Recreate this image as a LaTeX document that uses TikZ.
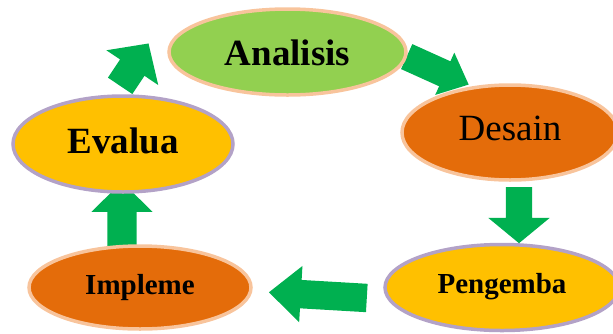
\documentclass[tikz,border=0pt]{standalone}
\usepackage{fontspec}
\setmainfont{Liberation Serif}
\usetikzlibrary{shapes.geometric,shapes.arrows}
\definecolor{lgreen}{HTML}{92D050}
\definecolor{peach}{HTML}{F8C49C}
\definecolor{orng}{HTML}{E46C0A}
\definecolor{yel}{HTML}{FFC000}
\definecolor{lav}{HTML}{B3A2C7}
\definecolor{agreen}{HTML}{00B050}
\begin{document}
\begin{tikzpicture}[x=1pt,y=-1pt,
  stage/.style={ellipse, line width=3.5pt, inner sep=0pt, text depth=0pt},
  bigtxt/.style={font=\fontsize{37}{40}\selectfont\bfseries},
  midtxt/.style={font=\fontsize{29}{32}\selectfont\bfseries},
  garrow/.style={single arrow, fill=agreen, draw=none, inner xsep=0pt,
    sloped, allow upside down, minimum width=1pt, single arrow head indent=0pt,
    pos=0, anchor=tail}
]
\useasboundingbox (0,0) rectangle (613,333);

% arrow end points
\coordinate (e1s) at (120,86);   \coordinate (e1e) at (148.5,43.5);
\coordinate (e2s) at (406.5,56.5); \coordinate (e2e) at (468.5,84.5);
\coordinate (e3s) at (519,187);  \coordinate (e3e) at (519,243);
\coordinate (e4s) at (367,298);  \coordinate (e4e) at (269.5,292.3);
\coordinate (e5s) at (122,247);  \coordinate (e5e) at (122,182);

% block arrows
\path (e1s) -- node[garrow, minimum height=51pt, inner ysep=14.5pt,
  single arrow head extend=16.5pt, single arrow tip angle=94] (a1) {} (e1e);
\path (e2s) -- node[garrow, minimum height=68pt, inner ysep=13.5pt,
  single arrow head extend=9.5pt, single arrow tip angle=83] (a2) {} (e2e);
\path (e3s) -- node[garrow, minimum height=56pt, inner ysep=13pt,
  single arrow head extend=17.5pt, single arrow tip angle=101] (a3) {} (e3e);
\path (e4s) -- node[garrow, minimum height=98pt, inner ysep=14pt,
  single arrow head extend=14pt, single arrow tip angle=83] (a4) {} (e4e);
\path (e5s) -- node[garrow, minimum height=65pt, inner ysep=14.5pt,
  single arrow head extend=16pt, single arrow tip angle=91] (a5) {} (e5e);

% stages
\node[stage, fill=lgreen, draw=peach, minimum width=237pt, minimum height=86pt,
  bigtxt, text height=26pt] (ana) at (287.5,52) {Analisis};
\node[stage, fill=orng, draw=peach, minimum width=216pt, minimum height=95pt,
  font=\fontsize{37}{40}\selectfont, text height=15pt] (des) at (510,132.5) {Desain};
\node[stage, fill=yel, draw=lav, minimum width=220pt, minimum height=96pt,
  bigtxt, text height=18pt] (eva) at (123,144) {Evalua};
\node[stage, fill=yel, draw=lav, minimum width=234pt, minimum height=86pt,
  midtxt, text height=11pt] (pen) at (502,287.5) {Pengemba};
\node[stage, fill=orng, draw=peach, minimum width=222pt, minimum height=83pt,
  midtxt, text height=13pt] (imp) at (140,287.5) {Impleme};
\end{tikzpicture}
\end{document}
